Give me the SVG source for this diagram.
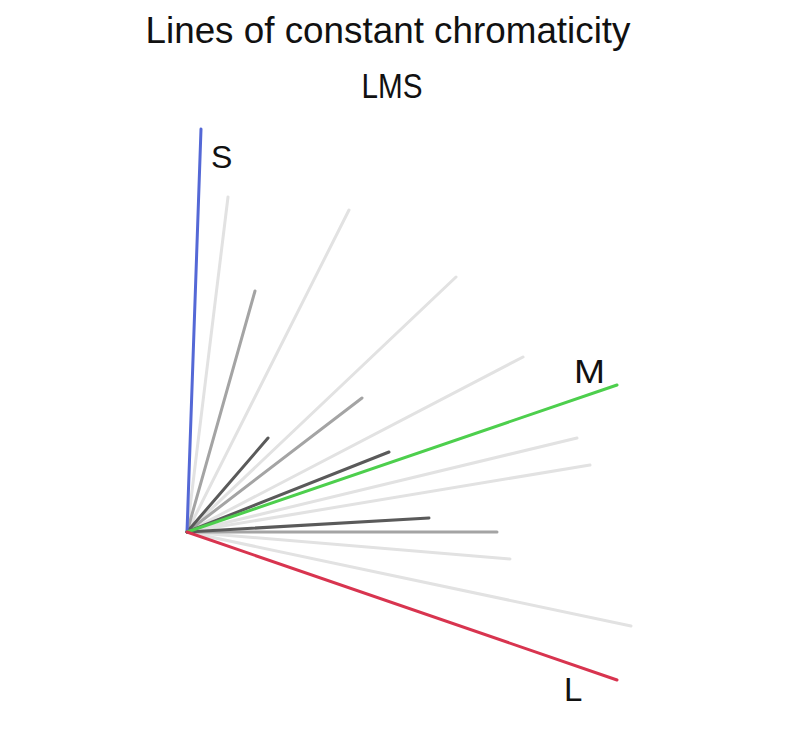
<svg xmlns="http://www.w3.org/2000/svg" width="794" height="742" viewBox="0 0 794 742">
<style>
.t{font-family:"Liberation Sans","DejaVu Sans",sans-serif;fill:#111}
.ln{stroke-width:3;stroke-linecap:round;fill:none}
.light{stroke:#e2e2e2}
.mid{stroke:#a4a4a4}
.dark{stroke:#5a5a5a}
</style>
<rect width="794" height="742" fill="#fff"/>
<g id="title">
<text class="t" x="388" y="43" font-size="36" text-anchor="middle" textLength="485" lengthAdjust="spacingAndGlyphs">Lines of constant chromaticity</text>
<text class="t" x="392" y="98" font-size="35" text-anchor="middle" textLength="61" lengthAdjust="spacingAndGlyphs">LMS</text>
</g>
<g id="connectors">
<g class="ln light">
<line x1="187" y1="532" x2="228" y2="197"/>
<line x1="187" y1="532" x2="349" y2="210"/>
<line x1="187" y1="532" x2="456" y2="277"/>
<line x1="187" y1="532" x2="523" y2="357"/>
<line x1="187" y1="532" x2="577" y2="438"/>
<line x1="187" y1="532" x2="590" y2="465"/>
<line x1="187" y1="532" x2="510" y2="559"/>
<line x1="187" y1="532" x2="631" y2="626"/>
</g>
<g class="ln mid">
<line x1="187" y1="532" x2="255" y2="291"/>
<line x1="187" y1="532" x2="362" y2="398"/>
<line x1="187" y1="532" x2="497" y2="532"/>
</g>
<g class="ln dark">
<line x1="187" y1="532" x2="268" y2="438"/>
<line x1="187" y1="532" x2="389" y2="452"/>
<line x1="187" y1="532" x2="429" y2="518"/>
</g>
</g>
<g id="axis-S">
<line class="ln" stroke="#5468d6" x1="187" y1="532" x2="201" y2="129"/>
<text class="t" x="211" y="168" font-size="32">S</text>
</g>
<g id="axis-M">
<line class="ln" stroke="#4dcf4d" x1="187" y1="532" x2="617" y2="385"/>
<text class="t" x="574" y="383" font-size="33" textLength="31" lengthAdjust="spacingAndGlyphs">M</text>
</g>
<g id="axis-L">
<line class="ln" stroke="#d8344f" x1="187" y1="532" x2="617" y2="680"/>
<text class="t" x="564" y="701" font-size="33">L</text>
</g>
</svg>
